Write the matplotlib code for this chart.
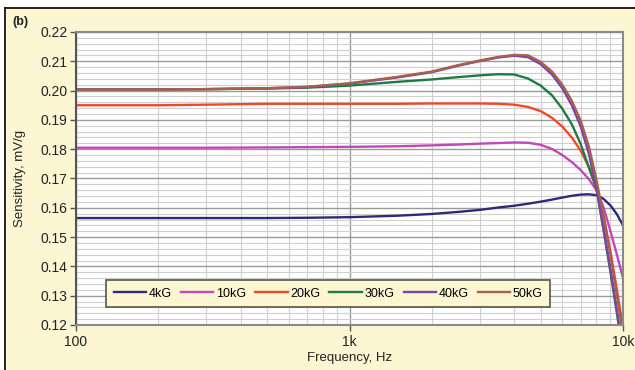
import matplotlib
matplotlib.use("Agg")
import matplotlib.pyplot as plt
import numpy as np
from matplotlib.lines import Line2D
from matplotlib.patches import Rectangle
from matplotlib.ticker import FixedLocator, FuncFormatter, MultipleLocator

plt.rcParams['font.family'] = ['Liberation Sans', 'DejaVu Sans']

# frequency points (Hz)
freq = [100, 200, 300, 500, 700, 1000, 1500, 2000, 2500, 3000, 3500, 4000,
        4500, 5000, 5500, 6000, 6500, 7000, 7500, 8000, 8500, 9000, 9500, 10000]

# sensitivity, mV/g
s_4kg = [0.1565, 0.1565, 0.1565, 0.1565, 0.1566, 0.1568, 0.1573, 0.1579,
         0.1586, 0.1593, 0.1601, 0.1607, 0.1614, 0.1621, 0.1628, 0.1635,
         0.1641, 0.1645, 0.1646, 0.1643, 0.1630, 0.1608, 0.1578, 0.1540]
s_10kg = [0.1805, 0.1805, 0.1805, 0.1806, 0.1807, 0.1808, 0.1810, 0.1813,
          0.1816, 0.1819, 0.1821, 0.1823, 0.1822, 0.1815, 0.1801, 0.1780,
          0.1756, 0.1729, 0.1698, 0.1660, 0.1600, 0.1520, 0.1440, 0.1360]
s_20kg = [0.1950, 0.1950, 0.1952, 0.1955, 0.1955, 0.1955, 0.1955, 0.1956,
          0.1956, 0.1956, 0.1955, 0.1952, 0.1944, 0.1930, 0.1907, 0.1877,
          0.1840, 0.1795, 0.1740, 0.1670, 0.1570, 0.1450, 0.1320, 0.1190]
s_30kg = [0.2004, 0.2004, 0.2005, 0.2007, 0.2010, 0.2017, 0.2030, 0.2038,
          0.2046, 0.2052, 0.2056, 0.2055, 0.2041, 0.2017, 0.1984, 0.1938,
          0.1885, 0.1818, 0.1738, 0.1665, 0.1520, 0.1380, 0.1240, 0.1100]
s_40kg = [0.2004, 0.2004, 0.2005, 0.2008, 0.2012, 0.2024, 0.2045, 0.2063,
          0.2085, 0.2101, 0.2113, 0.2119, 0.2114, 0.2090, 0.2055, 0.2008,
          0.1950, 0.1878, 0.1785, 0.1665, 0.1530, 0.1390, 0.1250, 0.1110]
s_50kg = [0.2004, 0.2004, 0.2005, 0.2008, 0.2013, 0.2025, 0.2047, 0.2065,
          0.2087, 0.2103, 0.2115, 0.2122, 0.2120, 0.2098, 0.2065, 0.2020,
          0.1965, 0.1898, 0.1810, 0.1695, 0.1570, 0.1440, 0.1300, 0.1170]

labels = ['4kG', '10kG', '20kG', '30kG', '40kG', '50kG']
colors = ['#2e2a78', '#c048b8', '#f2482a', '#1f7a45', '#7a45a8', '#a8604a']
series = [s_4kg, s_10kg, s_20kg, s_30kg, s_40kg, s_50kg]

yellow = '#fcf6d3'

fig = plt.figure(figsize=(6.35, 3.7), dpi=100, facecolor='white')
# pale yellow panel with black frame on top and left
fig.add_artist(Rectangle((5 / 635, 0), 1, 1 - 8 / 370, transform=fig.transFigure,
                         facecolor=yellow, edgecolor='none', zorder=-10))
fig.add_artist(Line2D([5 / 635, 1], [1 - 8 / 370, 1 - 8 / 370], transform=fig.transFigure,
                      color='black', lw=1.2))
fig.add_artist(Line2D([5 / 635, 5 / 635], [0, 1 - 8 / 370], transform=fig.transFigure,
                      color='black', lw=1.2))

ax = fig.add_axes([76 / 635, 1 - 325 / 370, (623 - 76) / 635, (325 - 32) / 370])
ax.set_facecolor('white')

for s, lab, c in zip(series, labels, colors):
    ax.plot(freq, s, color=c, lw=1.7, label=lab, solid_joinstyle='round')

ax.set_xscale('log')
ax.set_xlim(100, 10000)
ax.set_ylim(0.12, 0.22)

ax.yaxis.set_major_locator(MultipleLocator(0.01))
ax.yaxis.set_minor_locator(MultipleLocator(0.002))
ax.yaxis.set_major_formatter(FuncFormatter(lambda v, p: '%.2f' % v))
ax.xaxis.set_major_locator(FixedLocator([100, 1000, 10000]))
ax.xaxis.set_major_formatter(FuncFormatter(lambda v, p: {100: '100', 1000: '1k', 10000: '10k'}.get(int(round(v)), '')))
ax.xaxis.set_minor_locator(FixedLocator([m * d for d in (100, 1000) for m in range(2, 10)]))

ax.grid(which='minor', color='#cfcfcf', lw=0.8)
ax.grid(which='major', color='#9a9a9a', lw=1.0)
ax.set_axisbelow(True)

ax.tick_params(which='major', direction='out', length=4, width=1, color='#555555',
               labelsize=10, labelcolor='#222222')
ax.tick_params(which='minor', length=0)
ax.tick_params(axis='x', pad=3)
ax.tick_params(axis='y', pad=2)

for sp in ax.spines.values():
    sp.set_color('#8a8a8a')
    sp.set_linewidth(1.5)
ax.spines['left'].set_color('#555555')

ax.set_xlabel('Frequency, Hz', fontsize=9.5, color='#222222', labelpad=2)
ax.set_ylabel('Sensitivity, mV/g', fontsize=9.5, color='#222222')
ax.yaxis.set_label_coords(-0.092, 0.5)

fig.text(12 / 635, 1 - 22 / 370, '(b)', fontsize=9, fontweight='bold', color='#222222',
         va='center', ha='left')

leg = ax.legend(loc='lower left', bbox_to_anchor=(0.055, 0.061, 0.812, 0.185),
                mode='expand', ncol=6, frameon=True, fancybox=False, fontsize=9,
                handlelength=2.6, handletextpad=0.2, columnspacing=0.8,
                borderaxespad=0, borderpad=0.6)
leg.get_frame().set_facecolor(yellow)
leg.get_frame().set_edgecolor('#555555')
leg.get_frame().set_linewidth(1.2)
leg.get_frame().set_alpha(1)

plt.savefig('out.png', dpi=100, facecolor=fig.get_facecolor())
